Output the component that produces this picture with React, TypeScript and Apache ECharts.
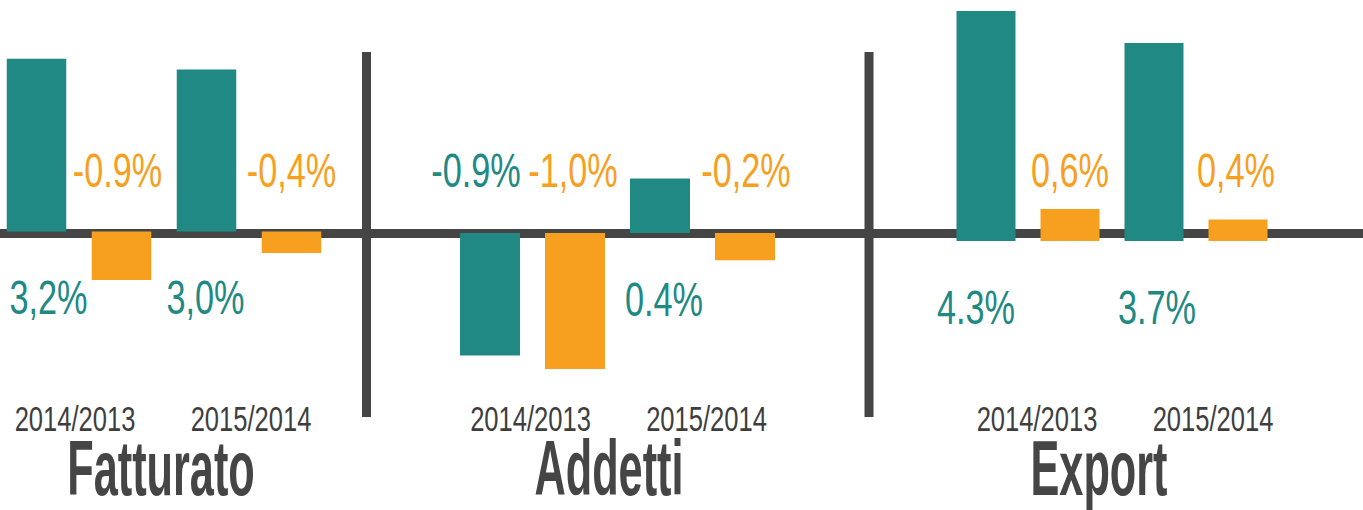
import React, { useEffect, useRef } from "react";
import * as echarts from "echarts";

// ---- data ----
const panels = ["Fatturato", "Addetti", "Export"];
const periods = ["2014/2013", "2015/2014"];
const fatturatoTeal = [3.2, 3.0];
const fatturatoOrange = [-0.9, -0.4];
const addettiTeal = [-0.9, 0.4];
const addettiOrange = [-1.0, -0.2];
const exportTeal = [4.3, 3.7];
const exportOrange = [0.6, 0.4];
const fatturatoTealLabels = ["3,2%", "3,0%"];
const fatturatoOrangeLabels = ["-0.9%", "-0,4%"];
const addettiTealLabels = ["-0.9%", "0.4%"];
const addettiOrangeLabels = ["-1,0%", "-0,2%"];
const exportTealLabels = ["4.3%", "3.7%"];
const exportOrangeLabels = ["0,6%", "0,4%"];

const tealData = [fatturatoTeal, addettiTeal, exportTeal];
const orangeData = [fatturatoOrange, addettiOrange, exportOrange];
const tealLabels = [fatturatoTealLabels, addettiTealLabels, exportTealLabels];
const orangeLabels = [fatturatoOrangeLabels, addettiOrangeLabels, exportOrangeLabels];

// ---- layout / style ----
const TEAL = "#218984";
const ORANGE = "#F79F1F";
const GRAY = "#454545";
const TEXT = "#3e3e3e";
const FONT = "'Liberation Sans', Arial, sans-serif";
const OFF = 20; // container shifted left so the first panel may start left of the page edge
const GRID_H = 395;
const gridLayout = [
  { left: -6, width: 340, zero: 231.5, ppu: 54, barW: 59.5, gap: 25.5 },
  { left: 447.5, width: 340, zero: 233, ppu: 136, barW: 60, gap: 25 },
  { left: 944, width: 336, zero: 241, ppu: 53.5, barW: 59, gap: 25 },
];
const titleX = [161, 609, 1099];
const yearShift = [[-4, 2], [-2, 4], [9, 17]];
const tealLabelDx = [[12, -1], [-14, 4], [-10, 3]];
const orangeLabelDx = [[-4, 0], [-2, 1], [0, -2]];

export default function App() {
  const ref = useRef<HTMLDivElement>(null);
  useEffect(() => {
    if (!ref.current) return;
    const chart = echarts.init(ref.current, null, { renderer: "svg" });
    const grid = gridLayout.map((g) => ({ left: g.left + OFF, width: g.width, top: 0, height: GRID_H }));
    const xAxis = gridLayout.map((_, i) => ({
      type: "category",
      gridIndex: i,
      data: periods,
      axisLine: { show: false },
      axisTick: { show: false },
      axisLabel: { show: false },
    }));
    const yAxis = gridLayout.map((g, i) => ({
      type: "value",
      gridIndex: i,
      max: g.zero / g.ppu,
      min: -(GRID_H - g.zero) / g.ppu,
      show: false,
      splitLine: { show: false },
    }));
    const series: any[] = [];
    gridLayout.forEach((g, i) => {
      series.push({
        type: "bar",
        name: panels[i] + " teal",
        xAxisIndex: i,
        yAxisIndex: i,
        data: tealData[i],
        barWidth: g.barW,
        barGap: (g.gap / g.barW) * 100 + "%",
        itemStyle: { color: TEAL },
        z: 5,
      });
      series.push({
        type: "bar",
        name: panels[i] + " orange",
        xAxisIndex: i,
        yAxisIndex: i,
        data: orangeData[i],
        barWidth: g.barW,
        barGap: (g.gap / g.barW) * 100 + "%",
        itemStyle: { color: ORANGE },
        z: 5,
      });
    });

    chart.setOption({
      animation: false,
      grid,
      xAxis,
      yAxis,
      series,
    });

    const graphics: any[] = [
      {
        type: "line",
        shape: { x1: 0, y1: 233.5, x2: 1363 + OFF, y2: 233.5 },
        style: { stroke: GRAY, lineWidth: 9 },
        z: 0,
      },
      {
        type: "line",
        shape: { x1: 366.5 + OFF, y1: 52, x2: 366.5 + OFF, y2: 417 },
        style: { stroke: GRAY, lineWidth: 9 },
        z: 0,
      },
      {
        type: "line",
        shape: { x1: 869 + OFF, y1: 52, x2: 869 + OFF, y2: 417 },
        style: { stroke: GRAY, lineWidth: 9 },
        z: 0,
      },
    ];

    gridLayout.forEach((g, i) => {
      periods.forEach((period, c) => {
        const p = chart.convertToPixel({ xAxisIndex: i, yAxisIndex: i }, [c, 0]) as number[];
        const half = (g.barW + g.gap) / 2;
        const tealX = p[0] - half + tealLabelDx[i][c];
        const orangeX = p[0] + half + orangeLabelDx[i][c];
        const tv = tealData[i][c];
        const topY = 170;
        const bottomY = p[1] + 66;
        graphics.push({
          type: "text",
          x: tealX,
          y: tv < 0 ? topY : bottomY,
          scaleX: 0.7,
          style: {
            text: tealLabels[i][c],
            fill: TEAL,
            font: `49px ${FONT}`,
            textAlign: "center",
            textVerticalAlign: "middle",
          },
          z: 10,
        });
        graphics.push({
          type: "text",
          x: orangeX,
          y: topY,
          scaleX: 0.7,
          style: {
            text: orangeLabels[i][c],
            fill: ORANGE,
            font: `49px ${FONT}`,
            textAlign: "center",
            textVerticalAlign: "middle",
          },
          z: 10,
        });
        graphics.push({
          type: "text",
          x: p[0] + yearShift[i][c],
          y: 418,
          scaleX: 0.73,
          style: {
            text: period,
            fill: TEXT,
            font: `35px ${FONT}`,
            textAlign: "center",
            textVerticalAlign: "middle",
          },
          z: 10,
        });
      });
      graphics.push({
        type: "text",
        x: titleX[i] + OFF,
        y: 468,
        scaleX: 0.555,
        style: {
          text: panels[i],
          fill: GRAY,
          font: `bold 78px ${FONT}`,
          textAlign: "center",
          textVerticalAlign: "middle",
        },
        z: 10,
      });
    });

    chart.setOption({ graphic: graphics });
    return () => chart.dispose();
  }, []);
  return (
    <div
      ref={ref}
      style={{ position: "fixed", left: -OFF, top: 0, width: 1363 + OFF, height: 510, background: "#fff" }}
    />
  );
}
